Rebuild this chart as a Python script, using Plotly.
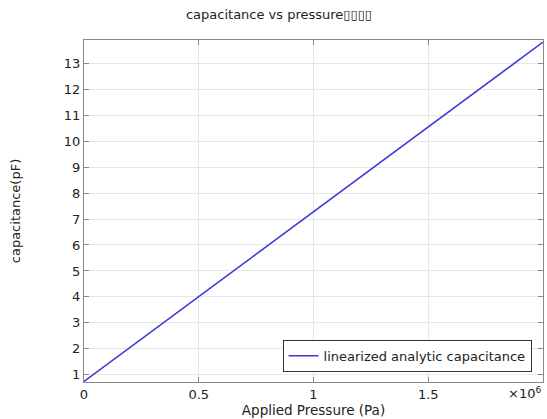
import plotly.graph_objects as go

pressure = [0, 0.5e6, 1.0e6, 1.5e6, 2.0e6]
capacitance = [0.74, 4.01, 7.28, 10.55, 13.82]
x_tickvals = [0, 0.5e6, 1.0e6, 1.5e6]
x_ticktext = ["0", "0.5", "1", "1.5"]
y_tickvals = list(range(1, 14))

fig = go.Figure()
fig.add_trace(go.Scatter(
    x=pressure, y=capacitance, mode="lines",
    name="linearized analytic capacitance",
    line=dict(color="#3a3ad8", width=1.5),
))

axis_common = dict(
    showgrid=True, gridcolor="#e6e6e6", gridwidth=1,
    showline=True, linecolor="#8a8a8a", linewidth=1, mirror="ticks",
    ticks="inside", ticklen=5, tickcolor="#8a8a8a",
    zeroline=False,
    tickfont=dict(family="DejaVu Sans", size=13, color="#222"),
)

fig.update_layout(
    width=547, height=419,
    margin=dict(l=84, r=4, t=40, b=37),
    paper_bgcolor="white", plot_bgcolor="white",
    font=dict(family="DejaVu Sans", color="#222"),
    title=dict(text="capacitance vs pressure▯▯▯▯", x=0.51, xanchor="center",
               y=0.965, yanchor="middle", font=dict(size=13, color="#222")),
    xaxis=dict(axis_common, range=[0, 2.0e6], tickvals=x_tickvals, ticktext=x_ticktext,
               title=dict(text="Applied Pressure (Pa)", standoff=2, font=dict(size=13.5))),
    yaxis=dict(axis_common, range=[0.72, 13.9], tickvals=y_tickvals,
               title=dict(text="capacitance(pF)", standoff=40, font=dict(size=13))),
    showlegend=True,
    legend=dict(x=0.975, y=0.03, xanchor="right", yanchor="bottom",
                bgcolor="white", bordercolor="#333", borderwidth=1,
                font=dict(size=13, color="#222")),
    annotations=[dict(text="×10<sup>6</sup>", x=1.0, y=0, xref="paper", yref="paper",
                      xanchor="right", yanchor="top", yshift=-1, showarrow=False,
                      font=dict(size=13, color="#222"))],
)

fig.write_html("out.html")
